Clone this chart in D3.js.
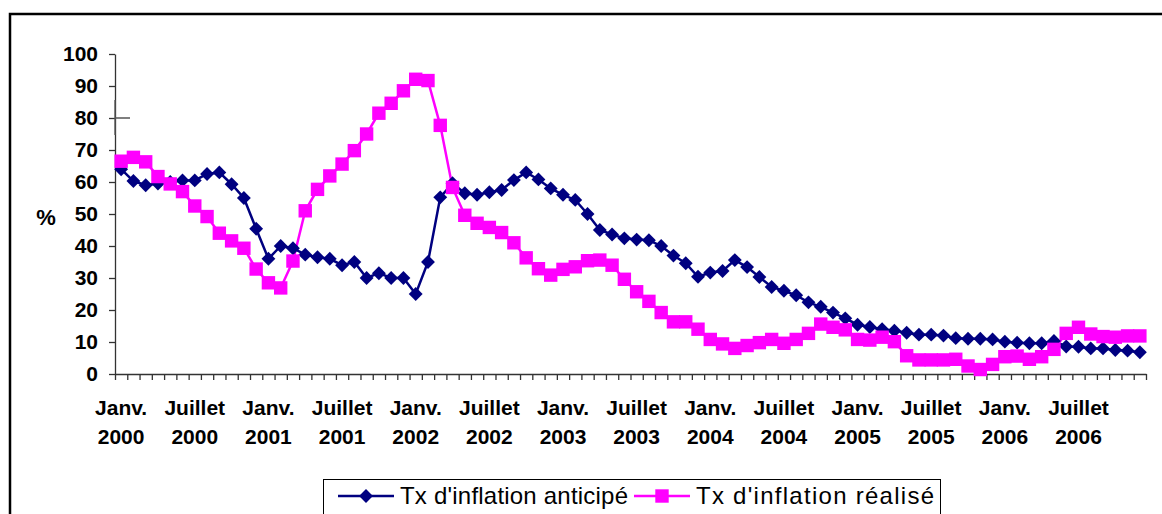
<!DOCTYPE html>
<html>
<head>
<meta charset="utf-8">
<script src="https://cdn.jsdelivr.net/npm/d3@7"></script>
<style>
  body { margin: 0; background: #fff; }
  svg { display: block; font-family: "Liberation Sans", Arial, sans-serif; }
</style>
</head>
<body>
<svg id="chart" width="1162" height="514"></svg>
<script>
// monthly values, Janv. 2000 -> Déc. 2006
const anticipe = [
  64, 60.3, 59, 59.5, 60, 60.5, 60.5, 62.5, 63, 59.3, 55, 45.4,
  36, 40, 39.3, 37.3, 36.5, 36, 34, 35, 30, 31.5, 30, 30,
  25, 35, 55.2, 59.6, 56.5, 56, 56.8, 57.5, 60.6, 63, 60.8, 58,
  56, 54.4, 50, 45, 43.6, 42.4, 42, 41.8, 40, 37, 34.6, 30.4,
  31.7, 32.2, 35.6, 33.4, 30.3, 27.2, 26, 24.6, 22.4, 21, 19.2, 17.4,
  15.4, 14.7, 14, 13.5, 12.9, 12.3, 12.3, 12, 11.2, 11, 11, 10.8,
  10.1, 9.8, 9.6, 9.6, 10.3, 8.6, 8.5, 8, 8, 7.5, 7.3, 6.8
];
const realise = [
  66.5, 67.7, 66.3, 61.7, 59.4, 57, 52.5, 49.2, 44, 41.6, 39.3, 32.8,
  28.5, 26.9, 35.3, 51, 57.7, 61.9, 65.6, 69.8, 75, 81.5, 84.6, 88.5,
  92.1, 91.7, 77.7, 58.3, 49.6, 47.1, 45.8, 44.2, 41, 36.3, 32.9, 30.9,
  32.7, 33.5, 35.4, 35.6, 34, 29.6, 25.7, 22.7, 19.2, 16.3, 16.3, 14,
  10.8, 9.4, 8, 8.9, 9.8, 10.8, 9.6, 10.8, 12.7, 15.6, 14.6, 13.8,
  10.8, 10.6, 11.5, 10.1, 5.7, 4.4, 4.4, 4.4, 4.6, 2.5, 1.4, 3,
  5.4, 5.6, 4.6, 5.4, 7.7, 12.7, 14.6, 12.5, 11.7, 11.5, 11.9, 11.9
];
const labelMonths = ['Janv.', 'Juillet'];
const labelYears = [2000, 2001, 2002, 2003, 2004, 2005, 2006];
const yTicks = [0, 10, 20, 30, 40, 50, 60, 70, 80, 90, 100];
const seriesNames = ["Tx d'inflation anticipé", "Tx d'inflation réalisé"];

const navy = '#000080', magenta = '#ff00ff';
const svg = d3.select('#chart');

// outer frame
svg.append('rect')
    .attr('x', 10).attr('y', 14)
    .attr('width', 1170).attr('height', 520)
    .attr('fill', 'none').attr('stroke', '#000').attr('stroke-width', 2.5);

const n = anticipe.length;
const x = d3.scaleLinear().domain([0, n]).range([115, 1146]);
const y = d3.scaleLinear().domain([0, 100]).range([374, 54]);
const cx = i => x(i + 0.5);

// y axis
const yAxis = svg.append('g')
    .attr('transform', 'translate(115,0)')
    .call(d3.axisLeft(y).tickValues(yTicks).tickSize(6).tickSizeOuter(0).tickPadding(11));
yAxis.select('.domain').attr('stroke', '#333').attr('stroke-width', 1.3);
yAxis.selectAll('.tick line').attr('stroke', '#333').attr('stroke-width', 1.3);
yAxis.selectAll('.tick text')
    .attr('font-size', 21).attr('font-weight', 'bold').attr('fill', '#000')
    .attr('font-family', '"Liberation Sans", Arial, sans-serif');

// x axis: ticks between months
const xAxis = svg.append('g')
    .attr('transform', 'translate(0,374)')
    .call(d3.axisBottom(x).tickValues(d3.range(0, n + 1)).tickSize(6).tickSizeOuter(0).tickFormat(''));
xAxis.select('.domain').attr('stroke', '#333').attr('stroke-width', 1.3);
xAxis.selectAll('.tick line').attr('stroke', '#333').attr('stroke-width', 1.3);

// category labels every 6 months
const labels = [];
labelYears.forEach(yr => labelMonths.forEach((m, k) => labels.push({ i: (yr - 2000) * 12 + k * 6, m, yr })));
const lab = svg.append('g').selectAll('text').data(labels).join('text')
    .attr('text-anchor', 'middle')
    .attr('font-size', 21).attr('font-weight', 'bold');
lab.append('tspan').attr('x', d => cx(d.i)).attr('y', 415).text(d => d.m);
lab.append('tspan').attr('x', d => cx(d.i)).attr('y', 444).text(d => d.yr);

// y title
svg.append('text')
    .attr('x', 46).attr('y', 225)
    .attr('text-anchor', 'middle')
    .attr('font-size', 22).attr('font-weight', 'bold')
    .text('%');

// stray cursor cross
svg.append('path')
    .attr('d', 'M115,100V135M115,118H130')
    .attr('stroke', '#555').attr('stroke-width', 1.3);

// lines
const line = d3.line().x((d, i) => cx(i)).y(d => y(d));
svg.append('path').datum(anticipe)
    .attr('fill', 'none').attr('stroke', navy).attr('stroke-width', 2.5).attr('d', line);
svg.append('path').datum(realise)
    .attr('fill', 'none').attr('stroke', magenta).attr('stroke-width', 2.5).attr('d', line);

// markers
const diamond = d3.symbol().type(d3.symbolSquare).size(96);
const square = d3.symbol().type(d3.symbolSquare).size(180);
svg.append('g').selectAll('path').data(anticipe).join('path')
    .attr('d', diamond)
    .attr('transform', (d, i) => `translate(${cx(i)},${y(d)}) rotate(45)`)
    .attr('fill', navy);
svg.append('g').selectAll('path').data(realise).join('path')
    .attr('d', square)
    .attr('transform', (d, i) => `translate(${cx(i)},${y(d)})`)
    .attr('fill', magenta);

// legend
const leg = svg.append('g');
leg.append('rect')
    .attr('x', 323.5).attr('y', 479.5).attr('width', 617).attr('height', 40)
    .attr('fill', '#fff').attr('stroke', '#000').attr('stroke-width', 1);
const items = [
  { name: seriesNames[0], color: navy, x0: 338, sym: diamond, rot: 45 },
  { name: seriesNames[1], color: magenta, x0: 634, sym: square, rot: 0 }
];
items.forEach(it => {
  leg.append('line')
      .attr('x1', it.x0).attr('x2', it.x0 + 56).attr('y1', 496).attr('y2', 496)
      .attr('stroke', it.color).attr('stroke-width', 2.5);
  leg.append('path')
      .attr('d', it.sym)
      .attr('transform', `translate(${it.x0 + 28},496) rotate(${it.rot})`)
      .attr('fill', it.color);
  leg.append('text')
      .attr('x', it.x0 + 62).attr('y', 504)
      .attr('font-size', 24)
      .attr('textLength', it.x0 === 338 ? 228 : 238)
      .text(it.name);
});
</script>
</body>
</html>
